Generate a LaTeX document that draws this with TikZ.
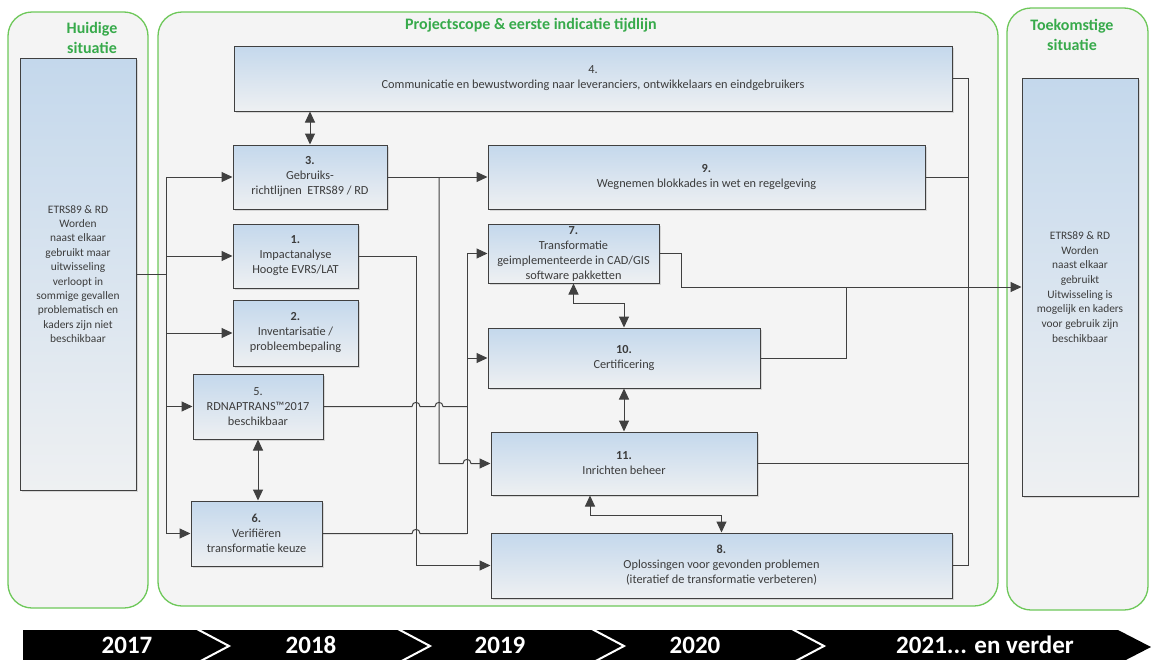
\documentclass[tikz,border=0pt]{standalone}
\usepackage{fontspec}
\setmainfont{Carlito}
\usetikzlibrary{arrows.meta,shadows,calc}
\definecolor{grn}{RGB}{55,170,75}
\definecolor{grnb}{RGB}{110,200,90}
\definecolor{ln}{RGB}{64,64,64}
\definecolor{txt}{RGB}{60,60,60}
\definecolor{btop}{RGB}{196,216,236}
\definecolor{bbot}{RGB}{238,240,242}
\definecolor{contbg}{RGB}{244,244,244}
\newcommand\tkjump[2]{-- ({#1-4},#2) .. controls ({#1-4},{#2-5.5}) and ({#1+4},{#2-5.5}) .. ({#1+4},#2)}
\begin{document}
\begin{tikzpicture}[x=1pt,y=-1pt,
  container/.style={draw=grnb, line width=1.3pt, fill=contbg, rounded corners=24pt},
  ttl/.style={text=grn, font=\fontsize{16}{20}\selectfont\bfseries, align=center, inner sep=0pt},
  box/.style={draw=ln, line width=1pt, top color=btop, bottom color=bbot, inner sep=0pt,
    align=center, text=txt, font=\fontsize{12.3}{15}\selectfont,
    drop shadow={shadow xshift=1.5pt, shadow yshift=-1.5pt, opacity=0.25}},
  sidebox/.style={box, font=\fontsize{11.4}{14.4}\selectfont},
  wh/.style 2 args={minimum width=#1pt, minimum height=#2pt},
  conn/.style={draw=ln, line width=1pt},
  arr/.style={conn, -{Triangle[length=11pt,width=10pt]}},
  darr/.style={conn, {Triangle[length=11pt,width=10pt]}-{Triangle[length=11pt,width=10pt]}},
  yr/.style={text=white, font=\fontsize{25}{26}\selectfont\bfseries, anchor=base, inner sep=0pt}
]
\useasboundingbox (0,0) rectangle (1151,659);
\clip (0,0) rectangle (1151,659);
\fill[white] (0,0) rectangle (1151,659);

% containers
\draw[container] (8,12) rectangle (148,608);
\draw[container] (158,12) rectangle (998,606);
\draw[container] (1007,8) rectangle (1148,610);

\node[ttl] (t1) at (92,38) {Huidige\\situatie};
\node[ttl] (t2) at (531,25) {Projectscope \& eerste indicatie tijdlijn};
\node[ttl] (t3) at (1072,35) {Toekomstige\\situatie};

% side boxes
\node[sidebox, wh={116}{432}] (cur) at (78,274) {ETRS89 \& RD\\Worden\\naast elkaar\\gebruikt maar\\uitwisseling\\verloopt in\\sommige gevallen\\problematisch en\\kaders zijn niet\\beschikbaar};
\node[sidebox, wh={116}{418}, font=\fontsize{11.4}{14.7}\selectfont] (fut) at (1080,287) {ETRS89 \& RD\\Worden\\naast elkaar\\gebruikt\\Uitwisseling is\\mogelijk en kaders\\voor gebruik zijn\\beschikbaar};

% project boxes
\node[box, wh={718}{65}] (b4) at (593,78.5) {4.\\Communicatie en bewustwording naar leveranciers, ontwikkelaars en eindgebruikers};
\node[box, wh={154}{64}] (b3) at (310,177) {\textbf{3.}\\Gebruiks-\\richtlijnen\ \ ETRS89 / RD};
\node[box, wh={125}{64}] (b1) at (295.5,256) {\textbf{1.}\\Impactanalyse\\Hoogte EVRS/LAT};
\node[box, wh={125}{66}] (b2) at (295.5,333) {\textbf{2.}\\Inventarisatie /\\probleembepaling};
\node[box, wh={130}{65}] (b5) at (258,406.5) {5.\\RDNAPTRANS™2017\\beschikbaar};
\node[box, wh={131}{65}] (b6) at (256.5,533.5) {\textbf{6.}\\Verifiëren\\transformatie keuze};
\node[box, wh={437}{64}] (b9) at (706.5,177) {\textbf{9.}\\Wegnemen blokkades in wet en regelgeving};
\node[box, wh={171}{59}] (b7) at (573.5,253.5) {\textbf{7.}\\Transformatie\\geimplementeerde in CAD/GIS\\software pakketten};
\node[box, wh={272}{60}] (b10) at (624,358) {\textbf{10.}\\Certificering};
\node[box, wh={266}{63}] (b11) at (624,463.5) {\textbf{11.}\\Inrichten beheer};
\node[box, wh={461}{65}] (b8) at (721.5,565.5) {\textbf{8.}\\Oplossingen voor gevonden problemen\\(iteratief de transformatie verbeteren)};

% helper coordinates
\coordinate (xl) at (166,0);
\coordinate (xa) at (416,0);
\coordinate (xb) at (439,0);
\coordinate (xc) at (467,0);
\coordinate (xr) at (968,0);
\coordinate (xm) at (846,0);

% left trunk
\draw[conn] (cur.east) -- (cur.east -| xl);
\draw[conn] (xl |- b3.west) -- (xl |- b6.west);
\draw[arr] (xl |- b3.west) -- (b3.west);
\draw[arr] (xl |- b1.west) -- (b1.west);
\draw[arr] (xl |- b2.west) -- (b2.west);
\draw[arr] (xl |- b5.west) -- (b5.west);
\draw[arr] (xl |- b6.west) -- (b6.west);

% double arrows
\draw[darr] (b3.north) -- (b3.north |- b4.south);
\draw[darr] (b5.south) -- (b5.south |- b6.north);
\draw[darr] (b7.south) -- ++(0,20) -| (b10.north);
\draw[darr] (b10.south) -- (b10.south |- b11.north);
\draw[darr] ([xshift=-34pt]b11.south) -- ++(0,20) -| (b8.north);

% middle connectors
\draw[arr] (b3.east) -- (b9.west);
\draw[arr] (xb |- b3.east) -- (xb |- b11.west) \tkjump{467}{463.5} -- (b11.west);
\draw[arr] (b1.east) -| (xa |- b8.west) -- (b8.west);
\draw[conn] (b5.east) \tkjump{416}{406.5} \tkjump{439}{406.5} -- (xc |- b5.east);
\draw[conn] (b6.east) \tkjump{416}{533.5} -- (xc |- b6.east);
\draw[conn] (xc |- b7.west) -- (xc |- b6.east);
\draw[arr] (xc |- b7.west) -- (b7.west);
\draw[arr] (xc |- b10.west) -- (b10.west);

% right connectors
\draw[conn] (b4.east) -| (xr |- b8.east) -- (b8.east);
\draw[conn] (b9.east) -- (xr |- b9.east);
\draw[conn] (b11.east) -- (xr |- b11.east);
\draw[arr] (b7.east) -- ++(22,0) |- (fut.west);
\draw[conn] (b10.east) -| (xm |- fut.west);

% timeline
\fill[black] (23,630) -- (1118,630) -- (1151,647) -- (1118,664) -- (23,664) -- cycle;
\foreach \sx in {195,396,590,790}{
  \draw[white, line width=2pt] (\sx,628) -- ({\sx+34},646) -- (\sx,664);
}
\node[yr] (y17) at (127,653) {2017};
\node[yr] (y18) at (311,653) {2018};
\node[yr] (y19) at (500,653) {2019};
\node[yr] (y20) at (695,653) {2020};
\node[yr] (y21) at (985,653) {2021... en verder};
\end{tikzpicture}
\end{document}
